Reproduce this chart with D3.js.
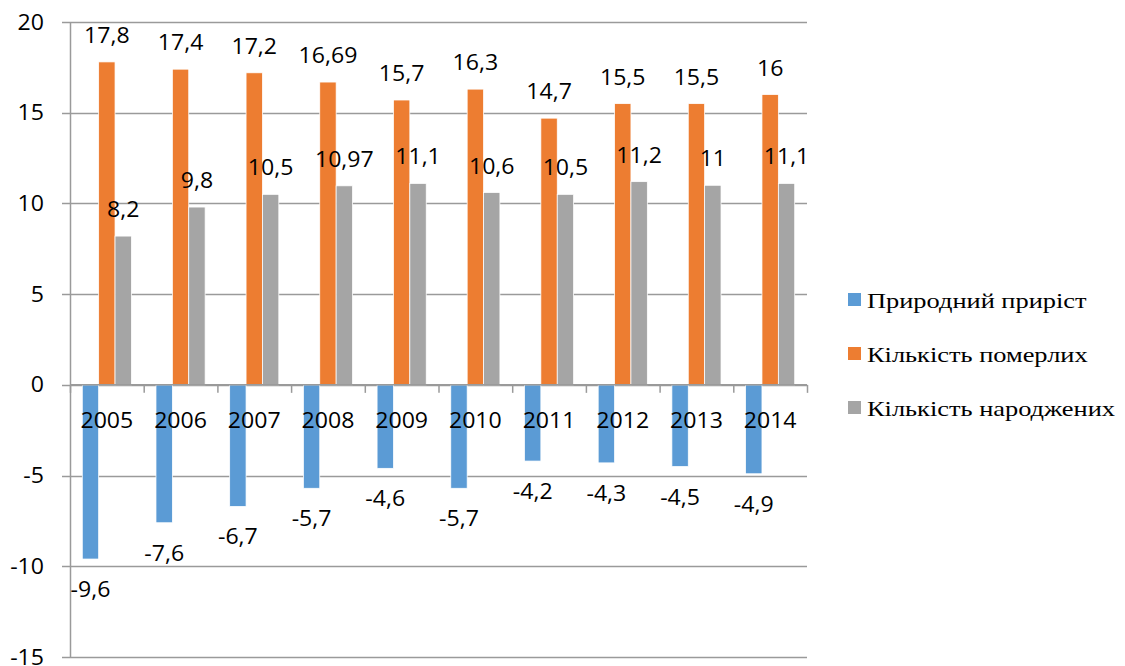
<!DOCTYPE html>
<html>
<head>
<meta charset="utf-8">
<script src="https://cdn.jsdelivr.net/npm/d3@7/dist/d3.min.js"></script>
<style>
  body { margin: 0; background: #fff; }
  .num { font-family: "Open Sans", sans-serif; font-size: 21px; fill: #000; }
  .leg { font-family: "Liberation Serif", "Times New Roman", serif; font-size: 22px; fill: #000; }
</style>
</head>
<body>
<script>
// дані
var roky = ["2005", "2006", "2007", "2008", "2009", "2010", "2011", "2012", "2013", "2014"];
var pryrist = [-9.6, -7.6, -6.7, -5.7, -4.6, -5.7, -4.2, -4.3, -4.5, -4.9];
var pomerlykh = [17.8, 17.4, 17.2, 16.69, 15.7, 16.3, 14.7, 15.5, 15.5, 16];
var narodzhenykh = [8.2, 9.8, 10.5, 10.97, 11.1, 10.6, 10.5, 11.2, 11, 11.1];
var yTicks = [20, 15, 10, 5, 0, -5, -10, -15];

var seriya = [
  {nazva: "Природний приріст", kolir: "#5b9bd5", dani: pryrist},
  {nazva: "Кількість померлих", kolir: "#ed7d31", dani: pomerlykh},
  {nazva: "Кількість народжених", kolir: "#a5a5a5", dani: narodzhenykh}
];

var shyryna = 1125, vysota = 666;
var marzha = {zverhu: 22, zliva: 70, sprava: 318, znyzu: 9};
var roztyah = 1.1; // текст у зразку трохи розтягнутий по горизонталі

var svg = d3.select("body").append("svg")
    .attr("width", shyryna)
    .attr("height", vysota);

// розміщення тексту з горизонтальним розтягом
function pozytsiya(tx, ty, k) {
  return "translate(" + tx + "," + ty + ") scale(" + k + ",1)";
}

// шкали
var x = d3.scaleBand()
    .domain(roky)
    .range([marzha.zliva, shyryna - marzha.sprava])
    .paddingInner(0).paddingOuter(0);

var y = d3.scaleLinear()
    .domain([-15, 20])
    .range([vysota - marzha.znyzu, marzha.zverhu]);

var bw = x.bandwidth() / 4.5;
var xs = d3.scaleBand()
    .domain(d3.range(seriya.length))
    .range([bw * 0.75, bw * 3.75]);

// сітка
svg.append("g")
  .selectAll("line")
  .data(yTicks)
  .enter().append("line")
    .attr("x1", marzha.zliva - 8)
    .attr("x2", shyryna - marzha.sprava)
    .attr("y1", function(d) { return Math.round(y(d)) + 0.5; })
    .attr("y2", function(d) { return Math.round(y(d)) + 0.5; })
    .attr("stroke", "#9a9a9a")
    .attr("stroke-width", 1.5);

// підписи осі y
svg.append("g")
  .selectAll("text")
  .data(yTicks)
  .enter().append("text")
    .attr("class", "num")
    .attr("transform", function(d) { return pozytsiya(44, y(d), roztyah); })
    .attr("dy", "0.36em")
    .attr("text-anchor", "end")
    .text(function(d) { return d; });

// вісь y
svg.append("line")
  .attr("x1", marzha.zliva + 0.5).attr("x2", marzha.zliva + 0.5)
  .attr("y1", y(20)).attr("y2", y(-15))
  .attr("stroke", "#9a9a9a")
  .attr("stroke-width", 1.5);

// стовпчики
seriya.forEach(function(s, i) {
  svg.append("g")
    .selectAll("rect")
    .data(s.dani)
    .enter().append("rect")
      .attr("x", function(d, j) { return x(roky[j]) + xs(i); })
      .attr("y", function(d) { return y(Math.max(0, d)); })
      .attr("width", xs.bandwidth())
      .attr("height", function(d) { return Math.abs(y(d) - y(0)); })
      .attr("fill", s.kolir)
      .attr("stroke", "#fff")
      .attr("stroke-width", 0.75);
});

// вісь x (нульова лінія і засічки)
svg.append("line")
  .attr("x1", marzha.zliva).attr("x2", shyryna - marzha.sprava)
  .attr("y1", y(0)).attr("y2", y(0))
  .attr("stroke", "#9a9a9a").attr("stroke-width", 1.5);
svg.append("g")
  .selectAll("line")
  .data(roky.concat(["kin"]))
  .enter().append("line")
    .attr("x1", function(d, j) { return marzha.zliva + j * x.step() + 0.5; })
    .attr("x2", function(d, j) { return marzha.zliva + j * x.step() + 0.5; })
    .attr("y1", y(0))
    .attr("y2", y(0) + 8)
    .attr("stroke", "#9a9a9a").attr("stroke-width", 1.5);

// роки
svg.append("g")
  .selectAll("text")
  .data(roky)
  .enter().append("text")
    .attr("class", "num")
    .attr("transform", function(d) { return pozytsiya(x(d) + x.bandwidth() / 2, y(0) + 43, roztyah); })
    .attr("text-anchor", "middle")
    .text(function(d) { return d; });

// підписи даних
seriya.forEach(function(s, i) {
  svg.append("g")
    .selectAll("text")
    .data(s.dani)
    .enter().append("text")
      .attr("class", "num")
      .attr("transform", function(d, j) {
        var tx = x(roky[j]) + xs(i) + xs.bandwidth() / 2;
        var ty = d >= 0 ? y(d) - 19 : y(d) + 38;
        return pozytsiya(tx, ty, roztyah);
      })
      .attr("text-anchor", "middle")
      .text(function(d) { return String(d).replace(".", ","); });
});

// легенда
var legenda = svg.append("g")
  .selectAll("g")
  .data(seriya)
  .enter().append("g")
    .attr("transform", function(d, i) { return "translate(848," + (300 + i * 54) + ")"; });

legenda.append("rect")
  .attr("x", 0).attr("y", -7)
  .attr("width", 13).attr("height", 13)
  .attr("fill", function(d) { return d.kolir; });

legenda.append("text")
  .attr("class", "leg")
  .attr("transform", pozytsiya(19, 0, 1.2))
  .attr("dy", "0.35em")
  .text(function(d) { return d.nazva; });
</script>
</body>
</html>
